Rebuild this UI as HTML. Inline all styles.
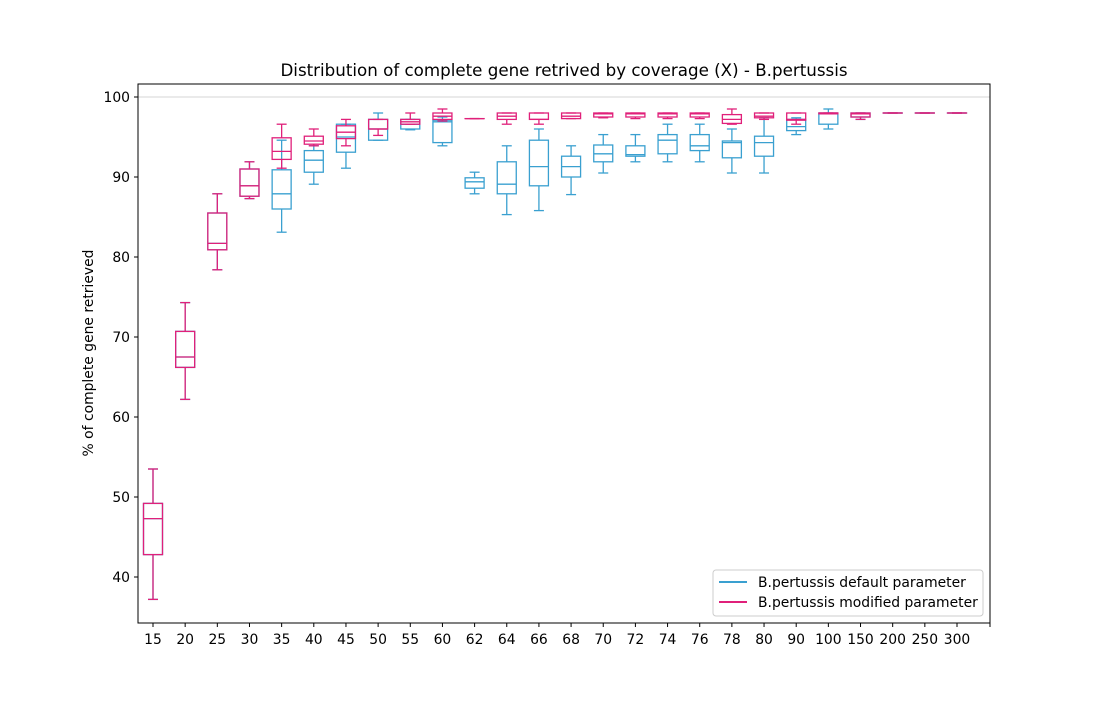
<!DOCTYPE html>
<html><head><meta charset="utf-8"><style>
body{margin:0;background:#fff;}
svg{font-family:"DejaVu Sans","Liberation Sans",sans-serif;}
</style></head><body>
<svg id="chart" width="1100" height="700" xmlns="http://www.w3.org/2000/svg">
<rect width="1100" height="700" fill="#fff"/>
<text x="564" y="76" text-anchor="middle" font-size="16.7">Distribution of complete gene retrived by coverage (X) - B.pertussis</text>
<text transform="translate(93,353) rotate(-90)" text-anchor="middle" font-size="13.9">% of complete gene retrieved</text>
<line x1="138" y1="97" x2="990" y2="97" stroke="#c8c8c8" stroke-width="0.8"/>
<g id="boxes"></g>
<rect x="138" y="84" width="852" height="539" fill="none" stroke="#000" stroke-width="1"/>
<g id="axes"></g>
<g>
<rect x="713" y="570" width="270" height="46" rx="3" fill="#fff" fill-opacity="0.8" stroke="#ccc"/>
<line x1="719" y1="582" x2="747" y2="582" stroke="#3aa0d0" stroke-width="2"/>
<text x="758" y="587" font-size="13.9">B.pertussis default parameter</text>
<line x1="719" y1="602" x2="747" y2="602" stroke="#e0207a" stroke-width="2"/>
<text x="758" y="607" font-size="13.9">B.pertussis modified parameter</text>
</g>
</svg>
<script>
const categories=["15","20","25","30","35","40","45","50","55","60","62","64","66","68","70","72","74","76","78","80","90","100","150","200","250","300"];
const yTicks=[40,50,60,70,80,90,100];
// [low whisker, q1, median, q3, high whisker]
const defaultSeries=[
[37.2,42.8,47.3,49.2,53.5],[62.2,66.2,67.5,70.7,74.3],[78.4,80.9,81.7,85.5,87.9],[87.3,87.6,88.9,91.0,91.9],
[83.1,86.0,87.9,90.9,94.6],[89.1,90.6,92.1,93.3,93.9],[91.1,93.1,95.0,96.6,96.6],[94.6,94.6,96.0,97.2,98.0],
[95.9,96.0,96.6,97.2,97.2],[93.9,94.3,96.9,97.1,97.5],[87.9,88.6,89.4,89.9,90.6],[85.3,87.9,89.1,91.9,93.9],
[85.8,88.9,91.3,94.6,96.0],[87.8,90.0,91.3,92.6,93.9],[90.5,91.9,92.9,94.0,95.3],[91.9,92.6,92.8,93.9,95.3],
[91.9,92.9,94.6,95.3,96.6],[91.9,93.3,93.9,95.3,96.6],[90.5,92.4,94.3,94.5,96.0],[90.5,92.6,94.3,95.1,97.4],
[95.3,95.8,96.3,97.2,97.4],[96.0,96.6,97.9,98.0,98.5],[97.2,97.5,97.9,98.0,98.0],[98,98,98,98,98],[98,98,98,98,98],[98,98,98,98,98]];
const modifiedSeries=[
[37.2,42.8,47.3,49.2,53.5],[62.2,66.2,67.5,70.7,74.3],[78.4,80.9,81.7,85.5,87.9],[87.3,87.6,88.9,91.0,91.9],
[91.1,92.2,93.2,94.9,96.6],[93.9,94.1,94.5,95.1,96.0],[93.9,94.8,95.6,96.4,97.2],[95.2,96.0,96.0,97.2,97.2],
[96.6,96.6,96.9,97.2,98.0],[97.0,97.2,97.6,98.0,98.5],[97.3,97.3,97.3,97.3,97.3],[96.6,97.2,97.6,98.0,98.0],
[96.6,97.2,97.2,98.0,98.0],[97.3,97.3,97.6,98.0,98.0],[97.4,97.5,97.9,98.0,98.0],[97.3,97.5,97.9,98.0,98.0],
[97.3,97.5,97.9,98.0,98.0],[97.3,97.5,97.9,98.0,98.0],[96.6,96.7,97.2,97.8,98.5],[97.2,97.4,97.6,98.0,98.0],
[96.6,97.1,97.2,98.0,98.0],[97.9,97.9,98.0,98.0,98.0],[97.2,97.5,97.9,98.0,98.0],[98,98,98,98,98],[98,98,98,98,98],[98,98,98,98,98]];
const NS="http://www.w3.org/2000/svg";
function xPos(i){return 153+i*32.16;}
function yPos(v){return 97+(100-v)*8;}
function mk(tag,attrs,parent){const e=document.createElementNS(NS,tag);for(const k in attrs)e.setAttribute(k,attrs[k]);parent.appendChild(e);return e;}
const boxes=document.getElementById('boxes');
function drawSeries(data,color,name){
  data.forEach((d,i)=>{
    const g=mk('g',{stroke:color,'stroke-width':1.3,fill:'none'},boxes);
    
    
    const x=xPos(i),w=19,hw=5;
    mk('line',{x1:x,y1:yPos(d[0]),x2:x,y2:yPos(d[1])},g);
    mk('line',{x1:x,y1:yPos(d[3]),x2:x,y2:yPos(d[4])},g);
    mk('line',{x1:x-hw,y1:yPos(d[0]),x2:x+hw,y2:yPos(d[0])},g);
    mk('line',{x1:x-hw,y1:yPos(d[4]),x2:x+hw,y2:yPos(d[4])},g);
    mk('rect',{x:x-w/2,y:yPos(d[3]),width:w,height:Math.max(0.01,yPos(d[1])-yPos(d[3]))},g);
    mk('line',{x1:x-w/2,y1:yPos(d[2]),x2:x+w/2,y2:yPos(d[2])},g);
  });
}
drawSeries(defaultSeries,'#3aa0d0','default');
drawSeries(modifiedSeries,'#e0207a','modified');
const axes=document.getElementById('axes');
categories.forEach((c,i)=>{
  const x=xPos(i);
  mk('line',{x1:x,y1:623,x2:x,y2:627,stroke:'#000'},axes);
  const t=mk('text',{x:x,y:644,'text-anchor':'middle','font-size':13.9},axes);
  t.textContent=c;
  
  
});
mk('line',{x1:990,y1:623,x2:990,y2:627,stroke:'#000'},axes);
yTicks.forEach(v=>{
  const y=yPos(v);
  mk('line',{x1:134,y1:y,x2:138,y2:y,stroke:'#000'},axes);
  const t=mk('text',{x:130,y:y+5,'text-anchor':'end','font-size':13.9},axes);
  t.textContent=v;
  
  
});
</script>
</body></html>
